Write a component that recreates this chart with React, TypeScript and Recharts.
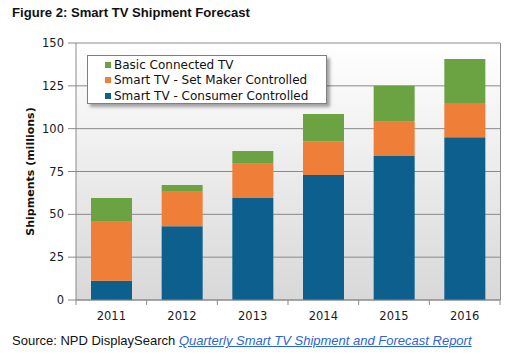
import { Bar, BarChart, CartesianGrid, Legend, XAxis, YAxis } from 'recharts';

const years = ['2011', '2012', '2013', '2014', '2015', '2016'];
const consumerControlled = [11.3, 43.1, 59.5, 72.9, 84, 95];
const setMakerControlled = [34.3, 20.1, 20, 19.8, 20, 20];
const basicConnected = [14, 3.9, 7.4, 15.8, 21, 25.6];
const yTicks = [0, 25, 50, 75, 100, 125, 150];

const series = [
  { key: 'consumer', name: 'Smart TV - Consumer Controlled', color: '#0d5f8e' },
  { key: 'setMaker', name: 'Smart TV - Set Maker Controlled', color: '#ef7e38' },
  { key: 'basic', name: 'Basic Connected TV', color: '#6ba343' },
];

const data = years.map((year, i) => ({
  year,
  consumer: consumerControlled[i],
  setMaker: setMakerControlled[i],
  basic: basicConnected[i],
}));

const W = 519;
const H = 358;
const margin = { top: 43, right: 19, bottom: 28, left: 36 };
const Y_AXIS_W = 40;
const plotW = W - margin.left - margin.right - Y_AXIS_W;
const band = plotW / years.length;
const tickFont = '"DejaVu Sans", Verdana, sans-serif';
const grey = '#8a8a8a';

function XTick(props: any) {
  const { x, y, payload, index } = props;
  const left = x - band / 2;
  return (
    <g>
      <line x1={left} x2={left} y1={y - 8} y2={y - 3} stroke={grey} />
      {index === years.length - 1 && (
        <line x1={x + band / 2} x2={x + band / 2} y1={y - 8} y2={y - 3} stroke={grey} />
      )}
      <text x={x} y={y + 12} textAnchor="middle" fontFamily={tickFont} fontSize={11.5} fill="#1a1a1a">
        {payload.value}
      </text>
    </g>
  );
}

function LegendBox() {
  // legend reads top-down opposite to the stack order
  const items = [...series].reverse();
  return (
    <div
      style={{
        width: 238,
        height: 46,
        background: '#fff',
        border: '1px solid #7f7f7f',
        boxShadow: '3px 3px 3px rgba(0,0,0,0.35)',
        fontFamily: tickFont,
        fontSize: 12,
        color: '#111',
        paddingTop: 1,
        boxSizing: 'content-box',
      }}
    >
      {items.map((s) => (
        <div key={s.key} style={{ height: 15.6, display: 'flex', alignItems: 'center', whiteSpace: 'nowrap' }}>
          <span style={{ display: 'inline-block', width: 6, height: 6, background: s.color, marginLeft: 17, marginRight: 3 }} />
          <span>{s.name}</span>
        </div>
      ))}
    </div>
  );
}

export default function App() {
  return (
    <div style={{ position: 'absolute', left: 0, top: 0, width: W, height: H, background: '#fff' }}>
      <div
        style={{
          position: 'absolute',
          left: 12,
          top: 5,
          fontFamily: '"Liberation Sans", Arial, sans-serif',
          fontWeight: 'bold',
          fontSize: 13.1,
          color: '#111',
        }}
      >
        Figure 2: Smart TV Shipment Forecast
      </div>
      <BarChart width={W} height={H} data={data} margin={margin} barSize={41}>
        <defs>
          <linearGradient id="plotBg" x1="0" y1="0" x2="0" y2="1">
            <stop offset="0%" stopColor="#ffffff" />
            <stop offset="100%" stopColor="#d8d8d8" />
          </linearGradient>
        </defs>
        <CartesianGrid vertical={false} stroke={grey} fill="url(#plotBg)" fillOpacity={1} />
        <XAxis
          dataKey="year"
          height={30}
          axisLine={{ stroke: grey }}
          tickLine={false}
          tick={<XTick />}
          interval={0}
        />
        <YAxis
          width={Y_AXIS_W}
          domain={[0, 150]}
          ticks={yTicks}
          interval={0}
          axisLine={{ stroke: grey }}
          tickLine={{ stroke: grey }}
          tickSize={8}
          tickMargin={4}
          tick={{ fontFamily: tickFont, fontSize: 11.5, fill: '#1a1a1a' }}
          label={{
            content: (p: any) => {
              const vb = p.viewBox || { x: 36, y: 43, height: 257 };
              const cx = vb.x - 6;
              const cy = vb.y + vb.height / 2;
              return (
                <text
                  x={cx}
                  y={cy}
                  transform={`rotate(-90 ${cx} ${cy})`}
                  textAnchor="middle"
                  dominantBaseline="central"
                  fontFamily={tickFont}
                  fontWeight="bold"
                  fontSize={11}
                  fill="#111"
                >
                  Shipments (millions)
                </text>
              );
            },
          }}
        />
        {series.map((s) => (
          <Bar key={s.key} dataKey={s.key} name={s.name} stackId="a" fill={s.color} isAnimationActive={false} />
        ))}
        <Legend
          layout="vertical"
          align="center"
          verticalAlign="middle"
          content={<LegendBox />}
          wrapperStyle={{ left: 87, top: 55, width: 'auto', height: 'auto' }}
        />
      </BarChart>
      <div
        style={{
          position: 'absolute',
          left: margin.left + Y_AXIS_W + plotW,
          top: margin.top,
          width: 1,
          height: H - margin.top - margin.bottom - 30,
          background: grey,
        }}
      />
      <div
        style={{
          position: 'absolute',
          left: 12,
          top: 333,
          fontFamily: '"Liberation Sans", Arial, sans-serif',
          fontSize: 13,
          color: '#111',
          whiteSpace: 'nowrap',
        }}
      >
        Source: NPD DisplaySearch{' '}
        <span style={{ color: '#2a64d8', fontStyle: 'italic', textDecoration: 'underline' }}>
          Quarterly Smart TV Shipment and Forecast Report
        </span>
      </div>
    </div>
  );
}
